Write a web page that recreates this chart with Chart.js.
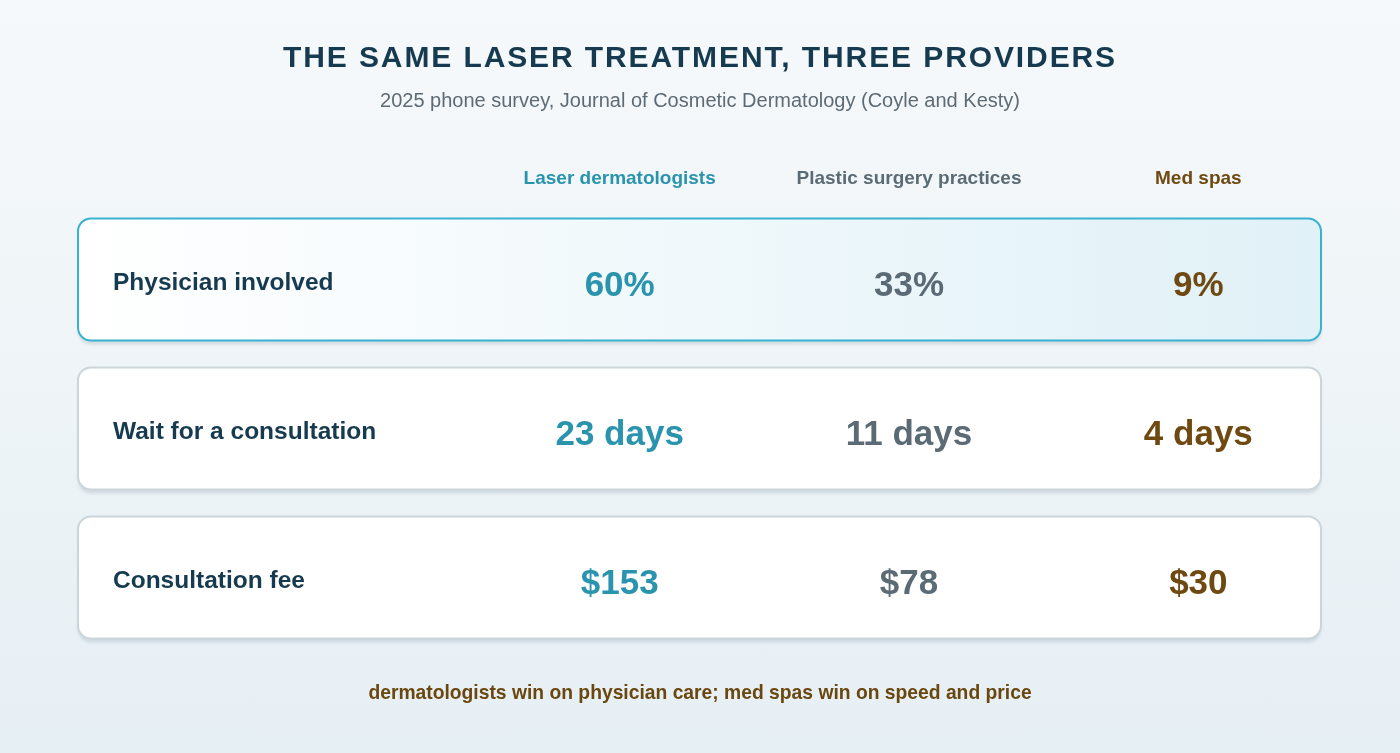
<html>
<head>
<title>The same laser treatment, three providers</title>
<script src="https://cdn.jsdelivr.net/npm/chart.js@4.4.1/dist/chart.umd.min.js"></script>
<style>
body{ margin:0; background:linear-gradient(#f6f9fb, #e6eff4); }
#page{ width:1400px; height:753px; position:relative; }
</style>
<script>
// chart data
var providers = [ "Laser dermatologists", "Plastic surgery practices", "Med spas" ];
var metrics = [ "Physician involved", "Wait for a consultation", "Consultation fee" ];
var physicianPct = [ 60, 33, 9 ];
var waitDays = [ 23, 11, 4 ];
var feeUsd = [ 153, 78, 30 ];
var titleText = "THE SAME LASER TREATMENT, THREE PROVIDERS";
var subtitleText = "2025 phone survey, Journal of Cosmetic Dermatology (Coyle and Kesty)";
var footerText = "dermatologists win on physician care; med spas win on speed and price";

var providerColors = [ "#2a93ad", "#5b6b75", "#6e4a12" ];
var FONT = '"Liberation Sans", Arial, Helvetica, sans-serif';

function fmt( row, v ){
  if( row == 0 ) return v + "%";
  if( row == 1 ) return v + " days";
  return "$" + v;
}

function roundRect( ctx, x, y, w, h, r ){
  ctx.beginPath();
  ctx.moveTo( x + r, y );
  ctx.arcTo( x + w, y, x + w, y + h, r );
  ctx.arcTo( x + w, y + h, x, y + h, r );
  ctx.arcTo( x, y + h, x, y, r );
  ctx.arcTo( x, y, x + w, y, r );
  ctx.closePath();
}

// cards behind the values, headings and texts on top
var tablePlugin = {
  id: 'tablePlugin',
  beforeDatasetsDraw: function( chart ){
    var ctx = chart.ctx;
    var ys = chart.scales.y;
    var left = 78, right = 1321, h = 122;
    for( var i = 0; i < metrics.length; i ++ ){
      var cy = ys.getPixelForValue( i );
      var top = cy - h / 2;
      ctx.save();
      roundRect( ctx, left, top, right - left, h, 13 );
      ctx.shadowColor = 'rgba( 70, 100, 120, 0.16 )';
      ctx.shadowOffsetY = 4;
      ctx.shadowBlur = 3;
      if( i == 0 ){
        var g = ctx.createLinearGradient( left, 0, right, 0 );
        g.addColorStop( 0, '#ffffff' );
        g.addColorStop( 1, '#e0f1f7' );
        ctx.fillStyle = g;
      } else {
        ctx.fillStyle = '#ffffff';
      }
      ctx.fill();
      ctx.shadowColor = 'transparent';
      ctx.lineWidth = 2;
      ctx.strokeStyle = ( i == 0 ) ? '#38b2cf' : '#cbd5da';
      ctx.stroke();
      ctx.restore();
    }
  },
  afterDatasetsDraw: function( chart ){
    var ctx = chart.ctx;
    var xs = chart.scales.x;
    var ys = chart.scales.y;
    ctx.save();
    ctx.textBaseline = 'middle';

    // title
    ctx.textAlign = 'center';
    ctx.fillStyle = '#163a4f';
    ctx.font = 'bold 30px ' + FONT;
    ctx.letterSpacing = '1.9px';
    ctx.fillText( titleText, 700, 59 );
    ctx.letterSpacing = '0px';
    ctx.fillStyle = '#5d6b74';
    ctx.font = '20px ' + FONT;
    ctx.fillText( subtitleText, 700, 101 );

    // column headings
    ctx.font = 'bold 19px ' + FONT;
    for( var j = 0; j < providers.length; j ++ ){
      ctx.fillStyle = providerColors[j];
      ctx.fillText( providers[j], xs.getPixelForValue( j ), 179 );
    }

    // row labels
    ctx.textAlign = 'left';
    ctx.fillStyle = '#163a4f';
    ctx.font = 'bold 24.5px ' + FONT;
    for( var i = 0; i < metrics.length; i ++ ){
      ctx.fillText( metrics[i], 113, ys.getPixelForValue( i ) + 4 );
    }

    // values
    ctx.textAlign = 'center';
    ctx.font = 'bold 35px ' + FONT;
    chart.data.datasets.forEach( function( ds, j ){
      var meta = chart.getDatasetMeta( j );
      meta.data.forEach( function( pt, k ){
        ctx.fillStyle = providerColors[j];
        ctx.fillText( fmt( k, ds.data[k].v ), pt.x, pt.y + 7 );
      });
    });

    // footer
    ctx.fillStyle = '#6b4710';
    ctx.font = 'bold 19.3px ' + FONT;
    ctx.fillText( footerText, 700, 694 );
    ctx.restore();
  }
};

function buildChart(){
  var datasets = [];
  for( var j = 0; j < providers.length; j ++ ){
    var vals = [ physicianPct[j], waitDays[j], feeUsd[j] ];
    var pts = [];
    for( var i = 0; i < metrics.length; i ++ ){
      pts.push({ x: providers[j], y: metrics[i], v: vals[i] });
    }
    datasets.push({
      label: providers[j],
      data: pts,
      pointRadius: 0,
      pointHoverRadius: 0,
      showLine: false,
      backgroundColor: providerColors[j]
    });
  }

  var ctx = document.getElementById( 'myChart' ).getContext( '2d' );
  var myChart = new Chart( ctx, {
    type: 'scatter',
    data: { datasets: datasets },
    options: {
      responsive: true,
      maintainAspectRatio: false,
      animation: false,
      events: [],
      layout: { padding: { left: 475, right: 57, top: 205, bottom: 101 } },
      plugins: { legend: { display: false }, tooltip: { enabled: false } },
      scales: {
        x: { type: 'category', labels: providers, offset: true, display: false },
        y: { type: 'category', labels: metrics, offset: true, display: false }
      }
    },
    plugins: [ tablePlugin ]
  });
}
</script>
</head>
<body onload="buildChart();">
  <div id="page">
    <canvas id="myChart"></canvas>
  </div>
</body>
</html>
